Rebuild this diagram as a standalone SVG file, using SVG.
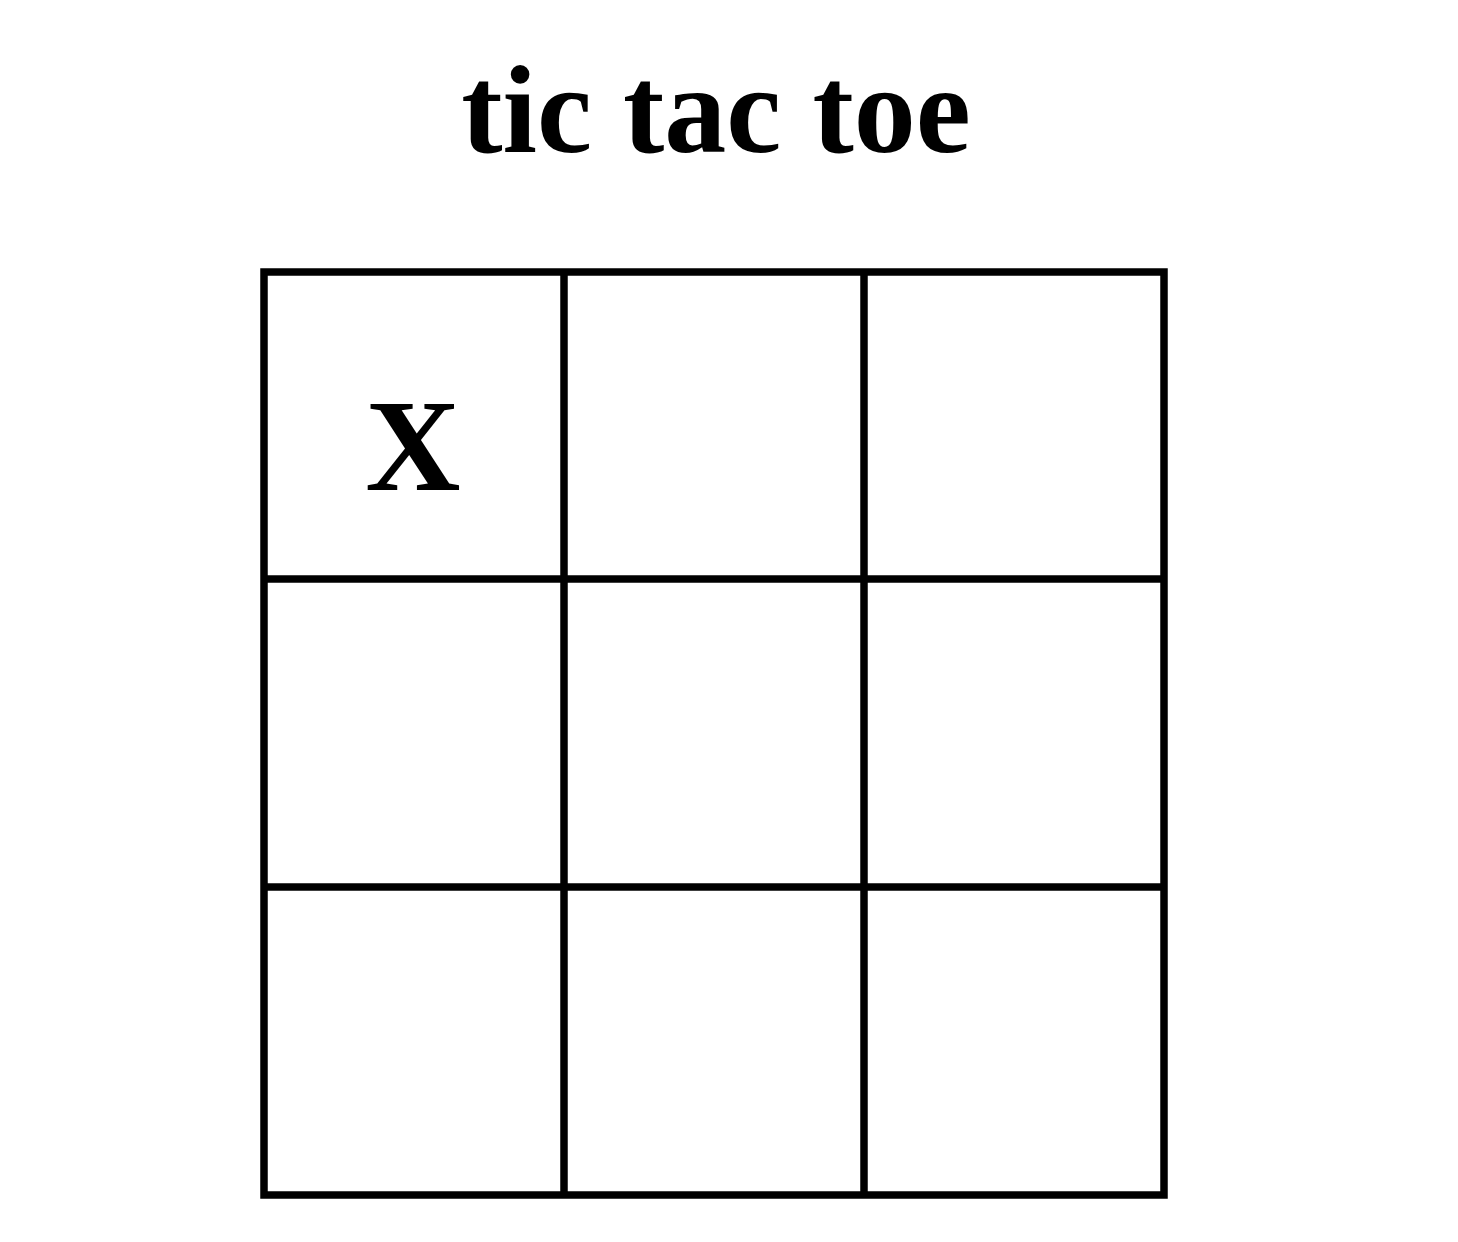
<svg xmlns="http://www.w3.org/2000/svg" width="1458" height="1242" viewBox="0 0 1458 1242">
<style>
.t{font-family:"Liberation Serif","Times New Roman",serif;font-weight:bold;fill:#000;text-anchor:middle}
.ln{stroke:#000;stroke-width:7.5;fill:none}
</style>
<rect width="1458" height="1242" fill="#fff"/>
<g id="title"><text class="t" x="716" y="152" font-size="124">tic tac toe</text></g>
<g id="board">
<rect class="ln" x="264" y="272" width="900" height="923"/>
<line class="ln" x1="564" y1="272" x2="564" y2="1195"/>
<line class="ln" x1="864" y1="272" x2="864" y2="1195"/>
<line class="ln" x1="264" y1="579" x2="1164" y2="579"/>
<line class="ln" x1="264" y1="887" x2="1164" y2="887"/>
</g>
<g id="cell-1-1"><text class="t" x="413" y="490" font-size="132">X</text></g>
</svg>
